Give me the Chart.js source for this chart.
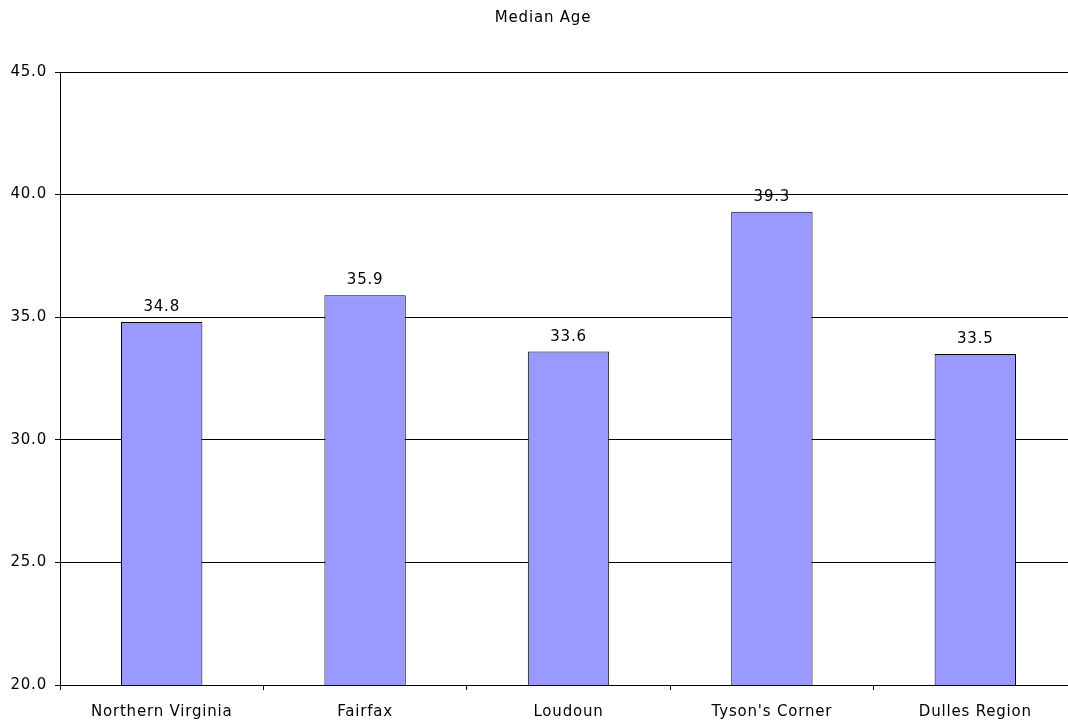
<!DOCTYPE html>
<html>
<head>
<meta charset="utf-8">
<script src="https://cdn.jsdelivr.net/npm/chart.js@4/dist/chart.umd.min.js"></script>
<style>
  html, body { margin: 0; padding: 0; background: #fff; overflow: hidden; }
  #wrap { width: 1078px; height: 721px; }
</style>
</head>
<body>
<div id="wrap"><canvas id="ageChart"></canvas></div>
<script>
const categories = ['Northern Virginia', 'Fairfax', 'Loudoun', "Tyson's Corner", 'Dulles Region'];
const medianAge = [34.8, 35.9, 33.6, 39.3, 33.5];
const chartTitle = 'Median Age';

const FONT = "'DejaVu Sans', Verdana, sans-serif";

// wider spacing to look like Verdana
const spacingPlugin = {
    id: 'spacing',
    beforeDraw(chart) { chart.ctx.letterSpacing = '0.8px'; }
};

// title + value labels drawn by hand
const labelPlugin = {
    id: 'labels',
    afterDatasetsDraw(chart) {
        const ctx = chart.ctx;
        ctx.save();
        ctx.letterSpacing = '0.8px';
        ctx.fillStyle = '#000';
        ctx.font = '15px ' + FONT;
        ctx.textAlign = 'center';
        ctx.textBaseline = 'alphabetic';
        chart.getDatasetMeta(0).data.forEach((bar, i) => {
            ctx.fillText(medianAge[i].toFixed(1), bar.x, bar.y - 11);
        });
        ctx.fillText(chartTitle, 543, 22);
        ctx.restore();
    }
};

const ctx = document.getElementById('ageChart').getContext('2d');
new Chart(ctx, {
    type: 'bar',
    data: {
        labels: categories,
        datasets: [{
            data: medianAge,
            backgroundColor: '#9999FF',
            borderColor: '#000',
            borderWidth: 1,
            barPercentage: 0.4,
            categoryPercentage: 1.0
        }]
    },
    options: {
        responsive: true,
        maintainAspectRatio: false,
        animation: false,
        layout: { padding: { top: 72, right: 1, left: 0, bottom: 0 } },
        plugins: {
            legend: { display: false },
            tooltip: { enabled: false }
        },
        scales: {
            x: {
                grid: { drawOnChartArea: false, color: '#000', tickLength: 5, offset: true },
                border: { color: '#000' },
                ticks: { color: '#000', font: { family: FONT, size: 15 }, padding: 13, maxRotation: 0 },
                afterFit(scale) { scale.height = 36; }
            },
            y: {
                min: 20,
                max: 45,
                grid: { color: '#000', tickLength: 5 },
                border: { color: '#000' },
                ticks: {
                    stepSize: 5,
                    color: '#000',
                    font: { family: FONT, size: 15, lineHeight: 1.0 },
                    padding: 8,
                    callback: v => v.toFixed(1)
                },
                afterFit(scale) { scale.width = 60; }
            }
        }
    },
    plugins: [spacingPlugin, labelPlugin]
});
</script>
</body>
</html>
